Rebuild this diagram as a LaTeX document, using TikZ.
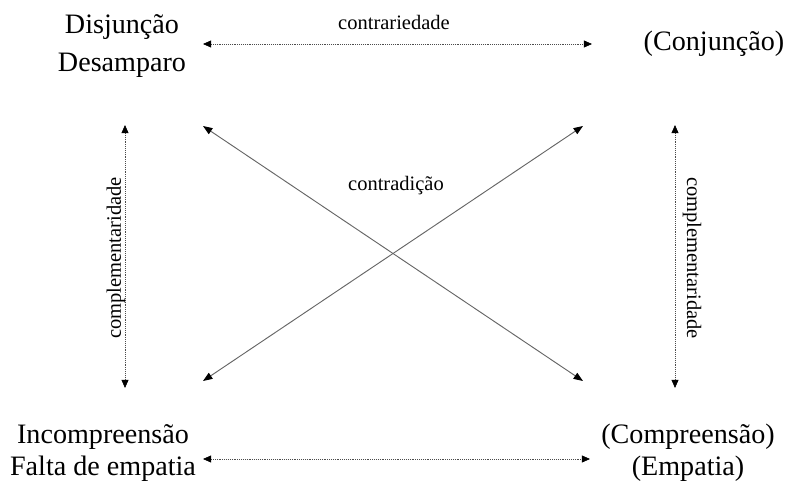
\documentclass[tikz,border=0pt]{standalone}
\usepackage{fontspec}
\setmainfont{Liberation Serif}
\usetikzlibrary{arrows.meta,positioning}

\begin{document}
\begin{tikzpicture}[x=0.03cm, y=-0.03cm]
		\tikzstyle{every node}=[font=\fontsize{24}{32}\selectfont, align=center, inner sep=0pt]
		\tikzstyle{low}=[font=\fontsize{24}{27}\selectfont]
		\tikzstyle{small}=[font=\fontsize{17.5}{20}\selectfont]
		\tikzstyle{rel}=[line width=0.6pt, densely dotted, black!70, {Triangle[length=7pt,width=6pt,black]}-{Triangle[length=7pt,width=6pt,black]}]
		\tikzstyle{contra}=[line width=0.8pt, black!60, {Triangle[length=8pt,width=6pt,black]}-{Triangle[length=8pt,width=6pt,black]}]
		\useasboundingbox (0,0) rectangle (786,484);
		% corners
		\node (dis) at (122,46) {Disjunção\\Desamparo};
		\node (con) at (714,44) {(Conjunção)};
		\node [low] (inc) at (103,453) {Incompreensão\\Falta de empatia};
		\node [low] (com) at (688,453) {(Compreensão)\\(Empatia)};
		% arrow ends
		\coordinate (tl) at (203,44);
		\coordinate (tr) at (592,44);
		\coordinate (bl) at (203,459);
		\coordinate (br) at (590,459);
		\coordinate (lt) at (125,125);
		\coordinate (lb) at (125,388);
		\coordinate (rt) at (675,125);
		\coordinate (rb) at (675,388);
		\coordinate (dtl) at (203,126);
		\coordinate (dbr) at (583,381);
		\coordinate (dtr) at (583,126);
		\coordinate (dbl) at (203,381);
		% relations
		\draw [rel] (tl) -- (tr);
		\draw [rel] (bl) -- (br);
		\draw [rel] (lt) -- (lb);
		\draw [rel] (rt) -- (rb);
		\draw [contra] (dtl) -- (dbr);
		\draw [contra] (dtr) -- (dbl);
		% labels
		\node [small] (lcontr) at (394,22) {contrariedade};
		\node [small] (lcontd) at (396,186) {contradição};
		\node [small, rotate=90] (lcompl) at (116,258) {complementaridade};
		\node [small, rotate=-90] (lcompr) at (692,258) {complementaridade};
	\end{tikzpicture}
\end{document}
